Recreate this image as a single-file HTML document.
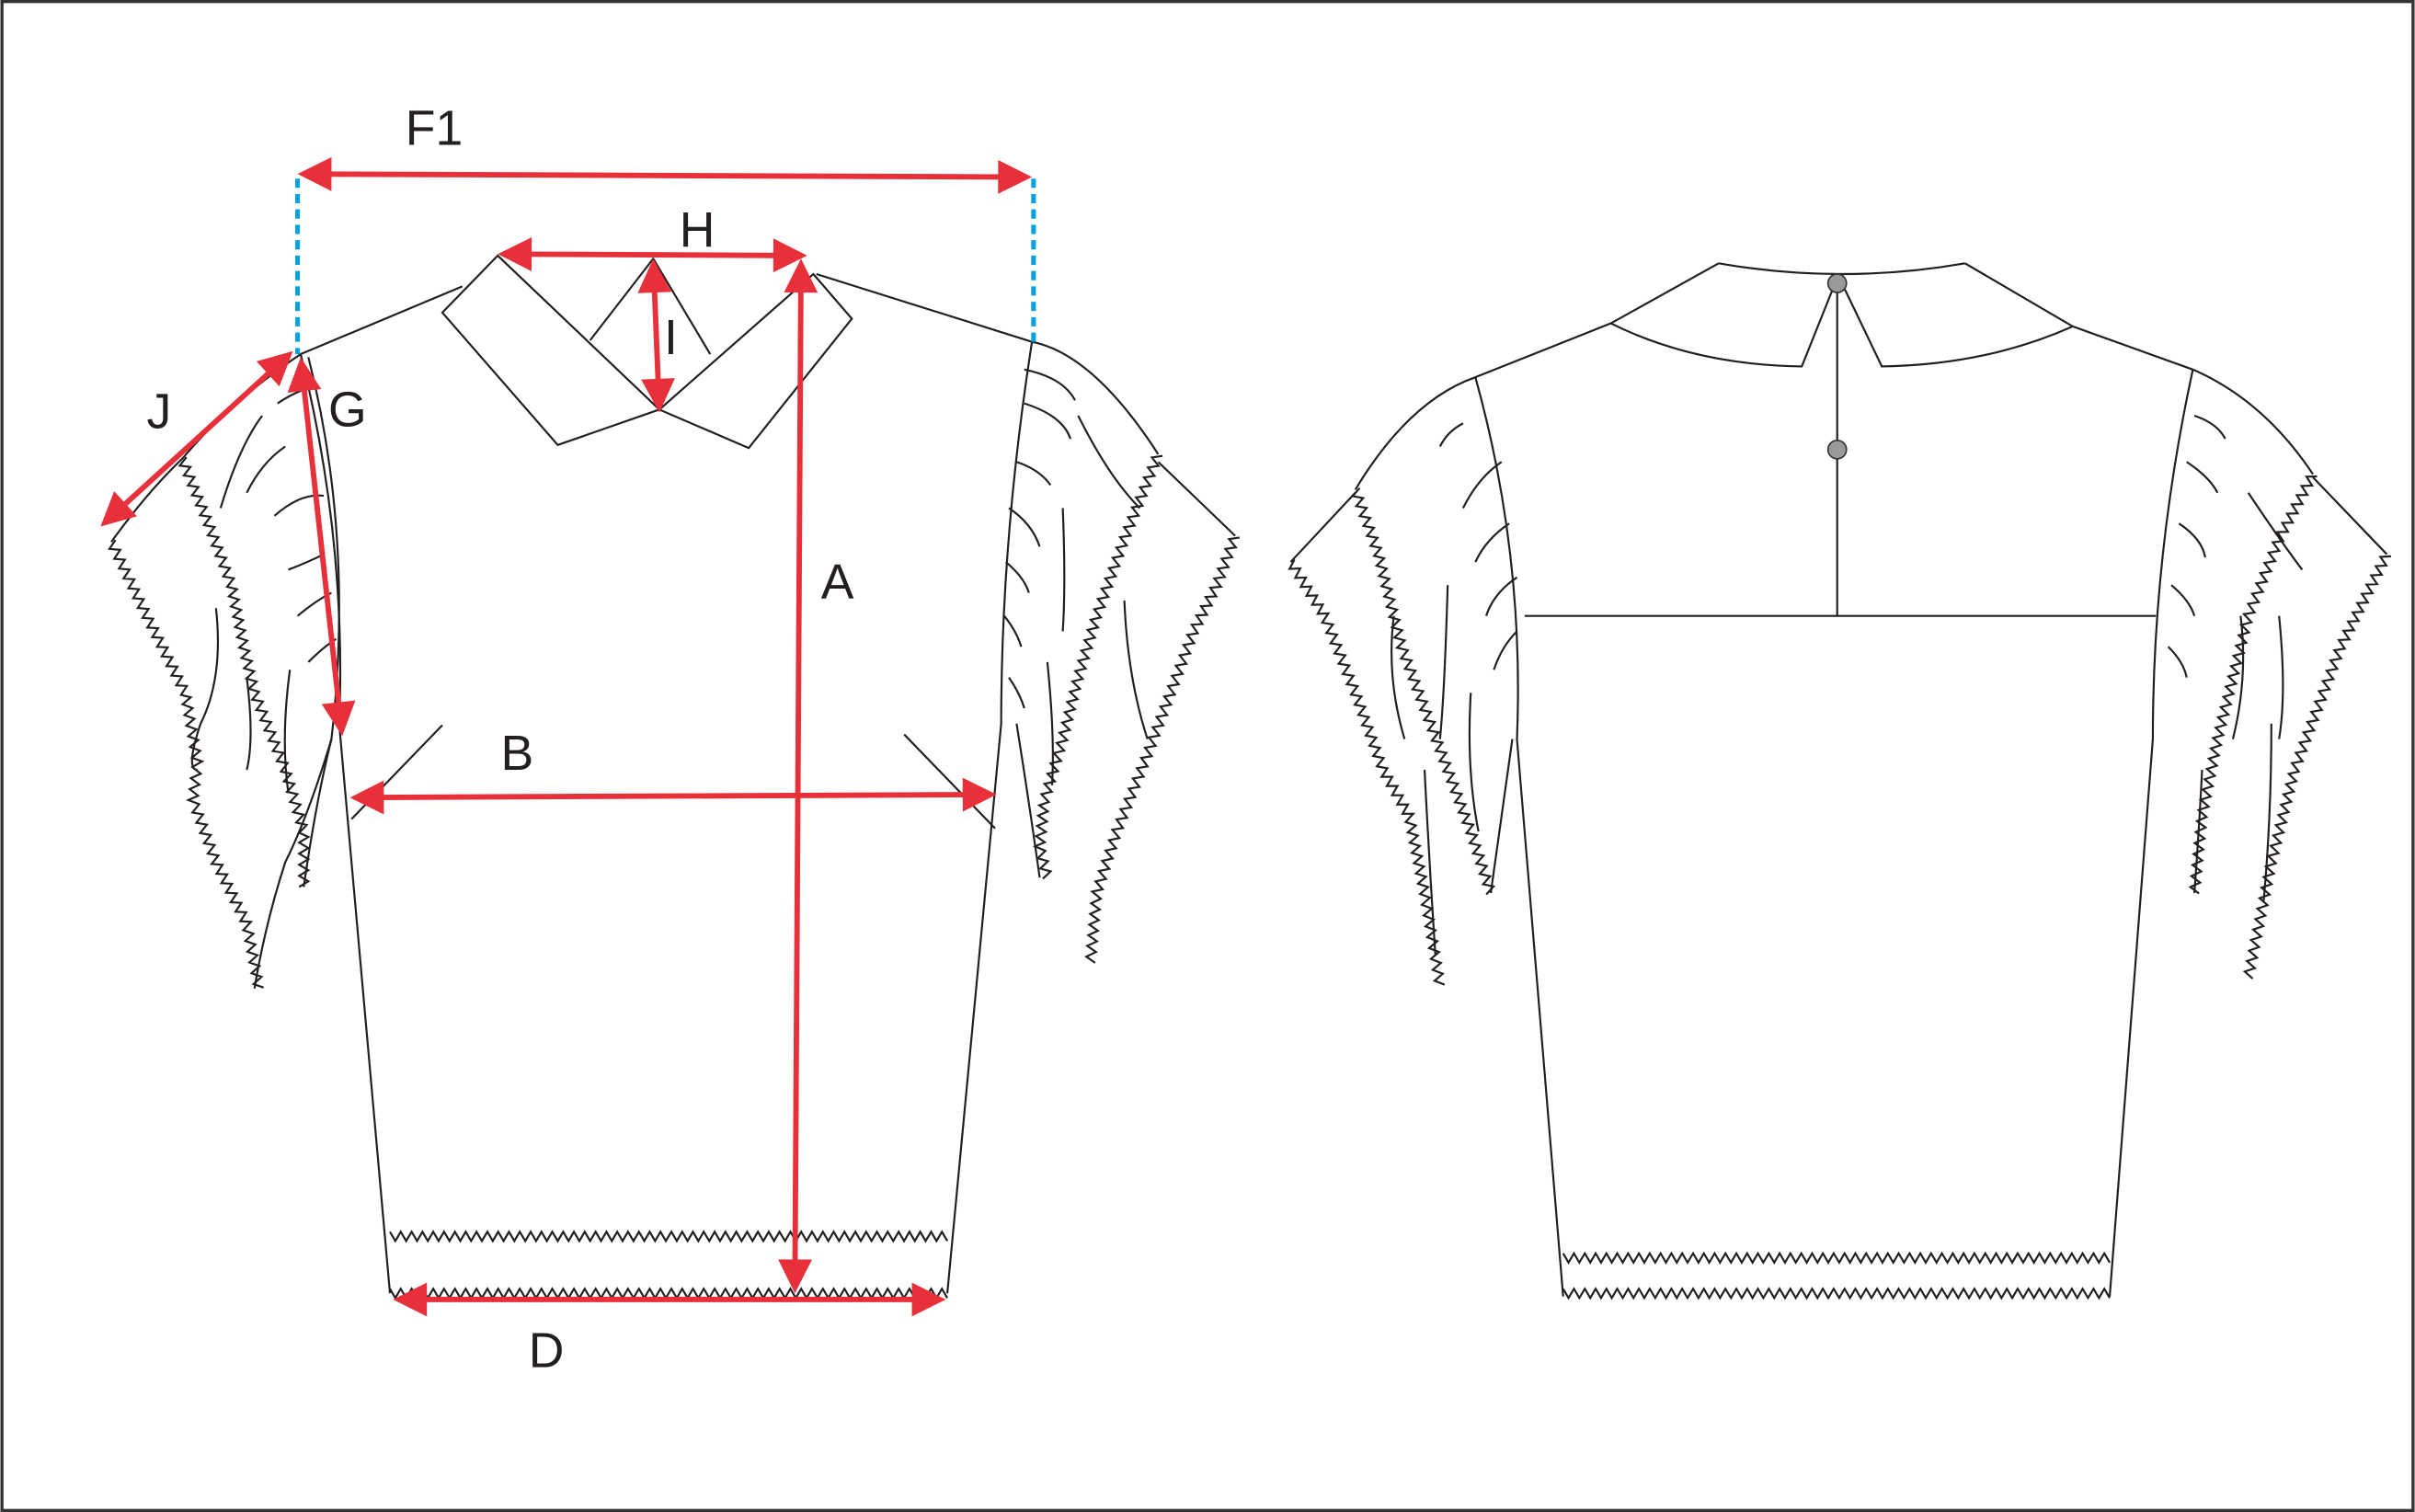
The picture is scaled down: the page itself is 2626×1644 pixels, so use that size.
<!DOCTYPE html>
<html><head><meta charset="utf-8"><style>
html,body{margin:0;padding:0;background:#fff}
svg{display:block}
text{font-family:"Liberation Sans",sans-serif;font-size:32px;fill:#231f20}
</style></head><body>
<svg id="s" width="2626" height="1644" viewBox="0 0 1568 982" xmlns="http://www.w3.org/2000/svg">
<defs>
<marker id="ar" viewBox="0 0 10 10" refX="9" refY="5" markerWidth="6" markerHeight="6" orient="auto-start-reverse" markerUnits="userSpaceOnUse" style="overflow:visible">
</marker>
</defs>
<rect x="1" y="1" width="1566" height="980" fill="#fff" stroke="#333" stroke-width="2"/>
<g id="lines" fill="none" stroke="#231f20" stroke-width="1.3">
<!-- FRONT -->
<path d="M300,186 L195,230"/>
<path d="M530,178 L670,222"/>
<polygon points="287,203 323,166 428,266 362,289"/>
<polygon points="528,178 553,207 486,291 428,266"/>
<path d="M383,221 L424,168 L461,230"/>
<path d="M195,230 Q225,350 220,470 L253,840"/>
<path d="M670,222 Q650,350 650,470 L615,840"/>
<path d="M228,532 L287,471"/>
<path d="M587,477 L646,538"/>
<!-- front left sleeve -->
<path d="M195,230 Q150,260 118,298 Q95,320 72,352"/>
<path d="M200,232 Q230,350 215,480 Q205,520 197,576"/>
<path d="M215,480 Q200,530 185,560 Q172,600 165,642"/>
<path d="M140,395 Q145,440 130,470 Q120,500 128,500"/>
<path d="M188,435 Q182,480 187,515"/>
<path d="M160,440 Q165,480 160,500"/>
<path d="M170,270 Q155,290 143,330"/>
<path d="M185,290 Q170,300 160,320"/>
<path d="M178,335 Q195,320 210,322"/>
<path d="M187,370 Q200,365 210,360"/>
<path d="M193,400 Q205,390 215,385"/>
<path d="M200,430 Q210,420 218,415"/>
<path d="M180,262 Q190,255 205,250"/>
<!-- front right sleeve -->
<path d="M670,222 Q710,230 752,295"/>
<path d="M752,300 L802,348"/>
<path d="M690,330 Q692,380 690,410"/>
<path d="M680,430 Q685,480 683,510"/>
<path d="M730,390 Q732,440 745,480"/>
<path d="M700,270 Q720,310 740,330"/>
<path d="M660,470 Q668,520 675,570"/>
<path d="M665,240 Q690,245 698,260"/>
<path d="M665,262 Q690,270 695,285"/>
<path d="M660,300 Q675,305 682,315"/>
<path d="M655,330 Q670,340 675,355"/>
<path d="M653,365 Q665,375 668,385"/>
<path d="M652,400 Q660,410 663,420"/>
<path d="M655,440 Q662,450 665,460"/>
<!-- BACK -->
<path d="M958,245 L1046,210 L1116,171"/>
<path d="M1276,171 L1346,212 L1424,240"/>
<path d="M1116,171 Q1196,185 1276,171"/>
<path d="M1046,210 Q1100,237 1170,238 L1190,188"/>
<path d="M1198,188 L1222,238 Q1290,237 1346,212"/>
<path d="M1193,190 L1193,400"/>
<path d="M990,400 L1400,400"/>
<path d="M958,245 Q990,360 985,480 L1015,842"/>
<path d="M1424,240 Q1398,360 1398,480 L1370,842"/>
<!-- back left sleeve -->
<path d="M958,245 Q915,260 880,318"/>
<path d="M880,320 L838,365"/>
<path d="M940,380 Q938,450 935,480"/>
<path d="M905,400 Q900,440 912,480"/>
<path d="M955,450 Q952,500 960,540"/>
<path d="M925,500 Q928,560 932,620"/>
<path d="M982,480 Q975,530 968,580"/>
<path d="M950,275 Q940,280 935,290"/>
<path d="M975,300 Q960,310 950,330"/>
<path d="M980,340 Q965,350 958,365"/>
<path d="M985,375 Q970,385 965,400"/>
<path d="M985,410 Q975,420 970,435"/>
<!-- back right sleeve -->
<path d="M1424,240 Q1470,260 1502,308"/>
<path d="M1502,310 L1550,360"/>
<path d="M1455,400 Q1460,440 1450,480"/>
<path d="M1480,400 Q1485,450 1480,480"/>
<path d="M1475,470 Q1475,530 1470,585"/>
<path d="M1430,500 Q1428,540 1425,580"/>
<path d="M1425,270 Q1440,275 1445,285"/>
<path d="M1420,300 Q1435,310 1440,320"/>
<path d="M1415,340 Q1430,350 1432,362"/>
<path d="M1410,380 Q1422,390 1425,400"/>
<path d="M1408,420 Q1418,430 1420,440"/>
<path d="M1460,320 Q1480,350 1495,370"/>
</g>
<g id="zz" fill="none" stroke="#231f20" stroke-width="1.3"></g>
<circle cx="1193" cy="184" r="6" fill="#999" stroke="#333"/>
<circle cx="1193" cy="292" r="6" fill="#999" stroke="#333"/>
<!-- blue dashed -->
<g stroke="#00a3e0" stroke-width="3" stroke-dasharray="6,4">
<line x1="193" y1="116" x2="193" y2="230"/>
<line x1="671" y1="116" x2="671" y2="222"/>
</g>
<g id="arrows" stroke="#e8303a" stroke-width="3.5" fill="#e8303a"></g>
<text x="263" y="94">F1</text>
<text x="441" y="160">H</text>
<text x="431" y="230">I</text>
<text x="533" y="389">A</text>
<text x="325" y="500">B</text>
<text x="343" y="888">D</text>
<text x="213" y="277">G</text>
<text x="95" y="278">J</text>
</svg>
<script>
var NS="http://www.w3.org/2000/svg";
function zig(pts,amp,per){
  var d="",first=true,k=0;
  for(var i=0;i<pts.length-1;i++){
    var a=pts[i],b=pts[i+1],dx=b[0]-a[0],dy=b[1]-a[1],L=Math.hypot(dx,dy),n=Math.max(1,Math.round(L/(per/2)));
    var nx=-dy/L,ny=dx/L;
    for(var j=0;j<=n;j++){
      if(j==0&&i>0)continue;
      var t=j/n,s=(k%2?amp:-amp);k++;
      var x=a[0]+dx*t+nx*s,y=a[1]+dy*t+ny*s;
      d+=(first?"M":"L")+x.toFixed(1)+","+y.toFixed(1);first=false;
    }
  }
  var p=document.createElementNS(NS,"path");p.setAttribute("d",d);
  document.getElementById("zz").appendChild(p);
}
var Z=[
 [[253,803],[615,803]],
 [[253,840],[615,840]],
 [[1015,817],[1370,817]],
 [[1015,840],[1370,840]],
 [[72,352],[95,400],[120,450],[128,495],[125,520],[140,560],[160,600],[168,642]],
 [[118,298],[135,340],[150,380],[158,420],[165,450],[185,500],[197,540],[197,576]],
 [[752,295],[730,350],[712,400],[700,440],[690,480],[678,520],[675,550],[680,570]],
 [[802,348],[790,380],[775,410],[760,450],[745,490],[725,540],[712,580],[708,625]],
 [[880,318],[895,360],[910,420],[925,460],[940,500],[955,540],[968,580]],
 [[838,365],[860,400],[880,450],[898,500],[915,530],[925,580],[935,640]],
 [[1502,308],[1480,350],[1460,400],[1450,440],[1440,480],[1430,530],[1425,580]],
 [[1550,360],[1535,390],[1520,420],[1505,460],[1490,500],[1475,560],[1460,635]]
];
Z.forEach(function(z){zig(z,3,7)});
function arr(x1,y1,x2,y2){
  var g=document.getElementById("arrows");
  var dx=x2-x1,dy=y2-y1,L=Math.hypot(dx,dy),ux=dx/L,uy=dy/L,h=22,w=11;
  var l=document.createElementNS(NS,"line");
  l.setAttribute("x1",x1+ux*h*0.8);l.setAttribute("y1",y1+uy*h*0.8);
  l.setAttribute("x2",x2-ux*h*0.8);l.setAttribute("y2",y2-uy*h*0.8);g.appendChild(l);
  [[x1,y1,1],[x2,y2,-1]].forEach(function(e){
    var px=e[0],py=e[1],s=e[2],bx=px+ux*h*s,by=py+uy*h*s;
    var p=document.createElementNS(NS,"polygon");
    p.setAttribute("points",px+","+py+" "+(bx-uy*w)+","+(by+ux*w)+" "+(bx+uy*w)+","+(by-ux*w));
    p.setAttribute("stroke","none");g.appendChild(p);
  });
}
arr(193,113,670,115);
arr(323,165,524,166);
arr(424,168,428,268);
arr(520,168,516,840);
arr(227,518,647,516);
arr(255,844,614,844);
arr(195,232,222,478);
arr(190,228,65,342);
</script>
</body></html>
